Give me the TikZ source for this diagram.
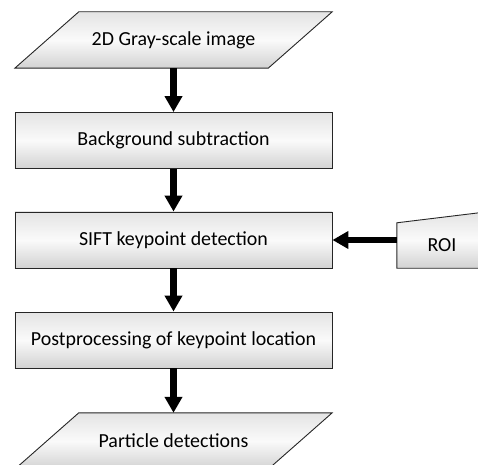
\documentclass[tikz,border=0pt]{standalone}
\usepackage{fontspec}
\setmainfont{Carlito}
\usetikzlibrary{arrows.meta,calc}
\pgfdeclarelayer{bg}
\pgfsetlayers{bg,main}
\definecolor{gtop}{HTML}{E4E4E4}
\definecolor{gmid}{HTML}{FAFAFA}
\definecolor{gbot}{HTML}{D2D2D2}
\tikzset{
  shadefill/.style={top color=gtop, bottom color=gbot, middle color=gmid, draw=black!85, line width=0.9bp},
  frame/.style={rectangle, minimum width=317bp, minimum height=56bp, inner sep=0pt, font=\fontsize{20}{24}\selectfont},
  procbox/.style={frame, shadefill},
  flow/.style={line width=6.5bp, -{Triangle[width=17bp,length=16bp]}},
}
\begin{document}
\begin{tikzpicture}[x=1bp,y=-1bp]
\clip (0,0) rectangle (478,465);
\node[frame] (img) at (173.5,40) {2D Gray-scale image};
\node[procbox] (bg) at (173.5,140.5) {Background subtraction};
\node[procbox] (sift) at (173.5,240) {SIFT keypoint detection};
\node[procbox] (post) at (173.5,340) {Postprocessing of keypoint location};
\node[frame] (out) at (173.5,441) {Particle detections};
\node[frame, minimum width=90bp, minimum height=45bp] (roi) at (442,245.5) {ROI};
\begin{pgfonlayer}{bg}
  \path[shadefill] ($(img.north west)+(64,0)$) -- (img.north east) -- ($(img.south east)-(64,0)$) -- (img.south west) -- cycle;
  \path[shadefill] ($(out.north west)+(64,0)$) -- (out.north east) -- ($(out.south east)-(64,0)$) -- (out.south west) -- cycle;
  \path[shadefill] (roi.south west) -- (roi.north west) -- ($(roi.north east)+(0,-11)$) -- (roi.south east) -- cycle;
\end{pgfonlayer}
\draw[flow] (img.south) -- (bg.north);
\draw[flow] (bg.south) -- (sift.north);
\draw[flow] (sift.south) -- (post.north);
\draw[flow] (post.south) -- (out.north);
\draw[flow] (roi.west |- sift.east) -- (sift.east);
\end{tikzpicture}
\end{document}
